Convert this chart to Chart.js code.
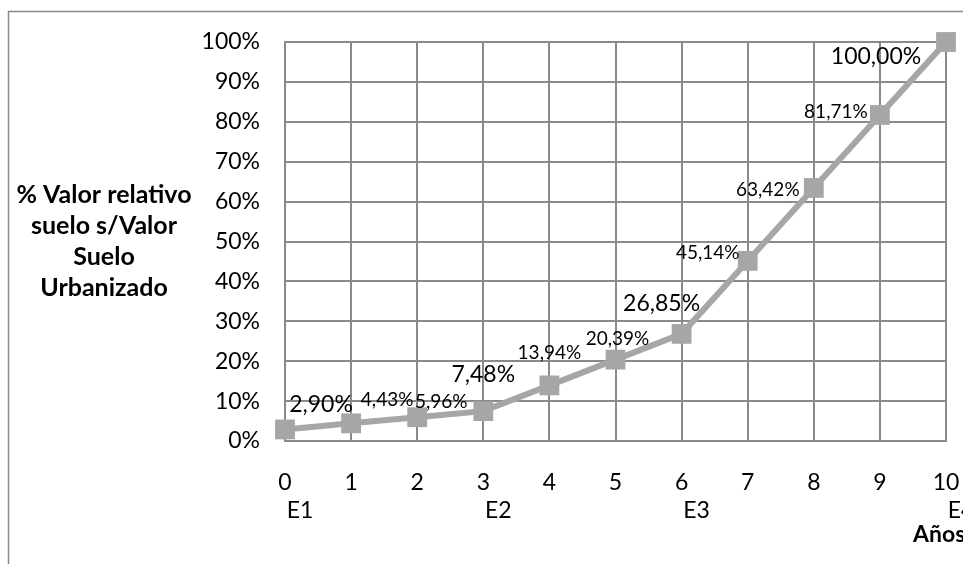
<!DOCTYPE html>
<html>
<head>
<meta charset="utf-8">
<script src="https://cdn.jsdelivr.net/npm/chart.js@4/dist/chart.umd.min.js"></script>
<style>
  html, body { margin: 0; padding: 0; background: #ffffff; }
  canvas { display: block; }
</style>
</head>
<body>
<canvas id="chart" width="963" height="564"></canvas>
<script>
// Years since start and relative land value (% of urbanized land value)
const years = [0, 1, 2, 3, 4, 5, 6, 7, 8, 9, 10];
const relativeValue = [2.90, 4.43, 5.96, 7.48, 13.94, 20.39, 26.85, 45.14, 63.42, 81.71, 100.00];

// Stage markers shown under the year ticks
const stageYears = [0, 3, 6, 10];
const stageLabels = ['E1', 'E2', 'E3', 'E4'];

// Axis titles
const yTitleLines = ['% Valor relativo', 'suelo s/Valor', 'Suelo', 'Urbanizado'];
const xTitle = 'Años';

// ---- styling ----
const FONT = 'Lato, "Open Sans", "DejaVu Sans", sans-serif';
const TICK_SIZE = 23;
const TITLE_SIZE = 25;
const BIG_LABEL = 23;
const SMALL_LABEL = 19;
const GRID = '#8a8a8a';
const SERIES = '#a6a6a6';
const bigLabelIdx = [0, 3, 6, 10];
// value label placement relative to its point (dx, dy)
const labelOffsets = [[36, -25], [36, -23], [24, -15], [0, -37], [0, -33], [2, -21],
                      [-20, -30], [-40, -8], [-46, 2], [-44, -3], [-70, 15]];

const fmt = v => v.toFixed(2).replace('.', ',') + '%';

const framePlugin = {
  id: 'frame',
  beforeDraw(chart) {
    const c = chart.ctx;
    c.save();
    c.fillStyle = '#ffffff';
    c.fillRect(0, 0, chart.width, chart.height);
    c.strokeStyle = GRID;
    c.lineWidth = 1.5;
    c.beginPath();
    c.moveTo(8.5, chart.height + 5);
    c.lineTo(8.5, 11.5);
    c.lineTo(chart.width + 5, 11.5);
    c.stroke();
    c.restore();
  }
};

const annotatePlugin = {
  id: 'annotate',
  afterDatasetsDraw(chart) {
    const c = chart.ctx;
    const meta = chart.getDatasetMeta(0);
    c.save();
    c.fillStyle = '#000000';
    c.textAlign = 'center';
    c.textBaseline = 'middle';
    meta.data.forEach((pt, i) => {
      const size = bigLabelIdx.includes(i) ? BIG_LABEL : SMALL_LABEL;
      c.font = size + 'px ' + FONT;
      const [dx, dy] = labelOffsets[i];
      c.fillText(fmt(relativeValue[i]), pt.x + dx, pt.y + dy);
    });
    c.restore();
  },
  afterDraw(chart) {
    const c = chart.ctx;
    const xs = chart.scales.x;
    const area = chart.chartArea;
    c.save();
    c.fillStyle = '#000000';
    c.textBaseline = 'middle';
    // stage names below the year ticks
    c.textAlign = 'center';
    c.font = TICK_SIZE + 'px ' + FONT;
    stageYears.forEach((yr, i) => {
      c.fillText(stageLabels[i], xs.getPixelForValue(yr) + 15, area.bottom + 70);
    });
    // x axis title
    c.textAlign = 'left';
    c.font = 'bold ' + TICK_SIZE + 'px ' + FONT;
    c.fillText(xTitle, area.right - 33, area.bottom + 94);
    // y axis title, horizontal and centred on the plot
    c.textAlign = 'center';
    c.font = 'bold ' + TITLE_SIZE + 'px ' + FONT;
    const lh = 31;
    const mid = (area.top + area.bottom) / 2;
    yTitleLines.forEach((line, i) => {
      c.fillText(line, 104, mid + (i - (yTitleLines.length - 1) / 2) * lh);
    });
    c.restore();
  }
};

new Chart(document.getElementById('chart'), {
  type: 'line',
  data: {
    datasets: [{
      data: years.map((x, i) => ({ x, y: relativeValue[i] })),
      borderColor: SERIES,
      backgroundColor: SERIES,
      borderWidth: 6,
      pointStyle: 'rect',
      pointRadius: 14,
      pointBorderWidth: 0,
      pointBackgroundColor: SERIES,
      pointHoverRadius: 14,
      tension: 0,
      clip: false
    }]
  },
  options: {
    responsive: false,
    devicePixelRatio: 1,
    animation: false,
    events: [],
    layout: { padding: { top: 42, right: 17, left: 0, bottom: 0 } },
    plugins: { legend: { display: false }, tooltip: { enabled: false } },
    scales: {
      x: {
        type: 'linear',
        min: 0,
        max: 10,
        afterFit(scale) {
          scale.height = 123;
          scale.paddingLeft = 0;
          scale.paddingRight = 0;
        },
        ticks: {
          stepSize: 1,
          padding: 28,
          color: '#000000',
          font: { family: FONT, size: TICK_SIZE }
        },
        grid: { color: GRID, lineWidth: 2, drawTicks: false },
        border: { color: GRID, width: 2 }
      },
      y: {
        min: 0,
        max: 100,
        afterFit(scale) {
          scale.width = 285;
          scale.paddingTop = 0;
          scale.paddingBottom = 0;
        },
        ticks: {
          stepSize: 10,
          padding: 25,
          color: '#000000',
          font: { family: FONT, size: TICK_SIZE },
          callback: v => v + '%'
        },
        grid: { color: GRID, lineWidth: 2, drawTicks: false },
        border: { color: GRID, width: 2 }
      }
    }
  },
  plugins: [framePlugin, annotatePlugin]
});
</script>
</body>
</html>
